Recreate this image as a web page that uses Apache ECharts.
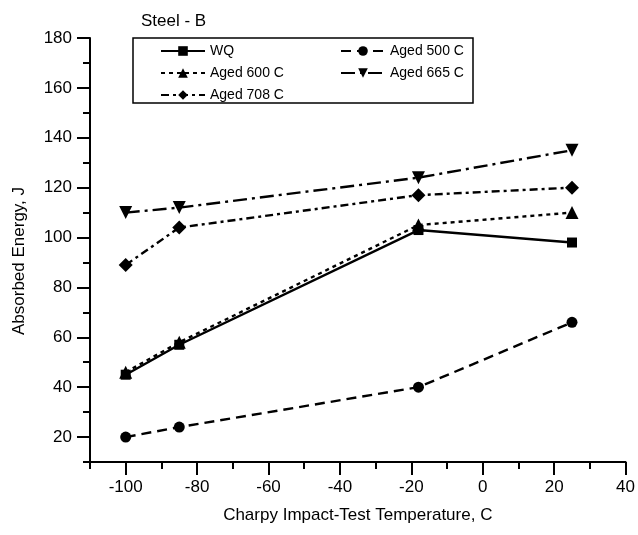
<!DOCTYPE html>
<html>
<head>
<meta charset="utf-8">
<script src="https://cdn.jsdelivr.net/npm/echarts@6/dist/echarts.min.js"></script>
<style>
  html, body { margin: 0; padding: 0; background: #fff; }
  #chart { width: 638px; height: 535px; }
</style>
</head>
<body>
<div id="chart"></div>
<script>
// test temperatures, C
const temps = [-100, -85, -18, 25];
// absorbed energy, J
const wq = [45, 57, 103, 98];
const aged500 = [20, 24, 40, 66];
const aged600 = [46, 58, 105, 110];
const aged665 = [110, 112, 124, 135];
const aged708 = [89, 104, 117, 120];
// major tick labels
const xTicks = [-100, -80, -60, -40, -20, 0, 20, 40];
const yTicks = [20, 40, 60, 80, 100, 120, 140, 160, 180];

const font = 'Liberation Sans, Arial, sans-serif';

function pairs(vals) {
  return temps.map((t, i) => [t, vals[i]]);
}

function line(name, vals, dash, symbol, size, rotate) {
  return {
    name: name,
    type: 'line',
    xAxisIndex: 0,
    yAxisIndex: 0,
    data: pairs(vals),
    symbol: symbol,
    symbolSize: size,
    symbolRotate: rotate || 0,
    showAllSymbol: true,
    lineStyle: { color: '#000', width: 2.4, type: dash },
    itemStyle: { color: '#000' },
    emphasis: { disabled: true },
    animation: false
  };
}

let chart = echarts.init(document.getElementById('chart'));
let option = {
  backgroundColor: '#fff',
  title: {
    text: 'Steel - B',
    left: 136,
    top: 8,
    textStyle: { fontFamily: font, fontSize: 17, fontWeight: 'normal', color: '#000' }
  },
  grid: { left: 90, right: 11, top: 38, bottom: 73, containLabel: false },
  legend: [
    {
      data: ['WQ', 'Aged 600 C', 'Aged 708 C'],
      orient: 'vertical',
      left: 160, top: 44, padding: 0,
      itemWidth: 44, itemHeight: 12, itemGap: 8,
      selectedMode: false,
      textStyle: { fontFamily: font, fontSize: 14, color: '#000' }
    },
    {
      data: ['Aged 500 C', 'Aged 665 C'],
      orient: 'vertical',
      left: 340, top: 44, padding: 0,
      itemWidth: 44, itemHeight: 12, itemGap: 8,
      selectedMode: false,
      textStyle: { fontFamily: font, fontSize: 14, color: '#000' }
    }
  ],
  graphic: [{
    type: 'rect',
    shape: { x: 133, y: 38, width: 340, height: 65 },
    style: { fill: 'none', stroke: '#000', lineWidth: 1.5 },
    silent: true
  }],
  xAxis: [
    {
      type: 'value', min: -110, max: 40, interval: 10, position: 'bottom',
      name: 'Charpy Impact-Test Temperature, C',
      nameLocation: 'middle', nameGap: 45,
      nameTextStyle: { fontFamily: font, fontSize: 17, color: '#000' },
      axisLine: { show: true, onZero: false, lineStyle: { color: '#000', width: 2 } },
      axisTick: { show: true, inside: false, length: 7, lineStyle: { color: '#000', width: 2 } },
      axisLabel: {
        fontFamily: font, fontSize: 17, color: '#000', margin: 17,
        formatter: v => (v % 20 === 0 ? String(v) : '')
      },
      splitLine: { show: false }
    },
    {
      type: 'value', min: -110, max: 40, position: 'bottom',
      axisLine: { show: false, onZero: false },
      axisTick: { show: true, inside: false, length: 13, customValues: xTicks, lineStyle: { color: '#000', width: 2 } },
      axisLabel: { show: false },
      splitLine: { show: false }
    }
  ],
  yAxis: [
    {
      type: 'value', min: 10, max: 180, interval: 10, position: 'left',
      name: 'Absorbed Energy, J',
      nameLocation: 'middle', nameGap: 62,
      nameTextStyle: { fontFamily: font, fontSize: 17, color: '#000', padding: [0, 22, 0, 0] },
      axisLine: { show: true, onZero: false, lineStyle: { color: '#000', width: 2 } },
      axisTick: { show: true, inside: false, length: 7, lineStyle: { color: '#000', width: 2 } },
      axisLabel: {
        fontFamily: font, fontSize: 17, color: '#000', margin: 18,
        formatter: v => (v % 20 === 0 ? String(v) : '')
      },
      splitLine: { show: false }
    },
    {
      type: 'value', min: 10, max: 180, position: 'left',
      axisLine: { show: false, onZero: false },
      axisTick: { show: true, inside: false, length: 13, customValues: yTicks, lineStyle: { color: '#000', width: 2 } },
      axisLabel: { show: false },
      splitLine: { show: false }
    }
  ],
  series: [
    line('WQ', wq, 'solid', 'rect', 10),
    line('Aged 500 C', aged500, [10, 6], 'circle', 11),
    line('Aged 600 C', aged600, [4, 4], 'triangle', 13),
    line('Aged 665 C', aged665, [14, 5, 3, 5], 'triangle', 13, 180),
    line('Aged 708 C', aged708, [8, 4, 3, 4], 'diamond', 14)
  ]
};
chart.setOption(option);
</script>
</body>
</html>
